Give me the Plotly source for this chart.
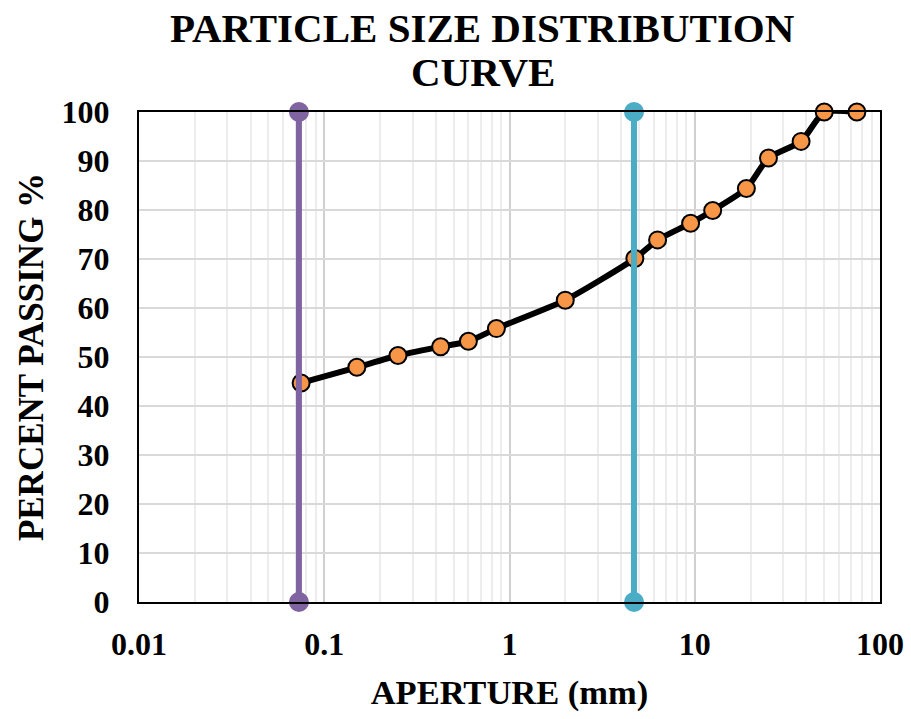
import plotly.graph_objects as go

# Sieve data
aperture_mm = [0.075, 0.15, 0.25, 0.425, 0.6, 0.85, 2, 4.75, 6.3, 9.5, 12.5, 19, 25, 37.5, 50, 75]
percent_passing = [44.7, 47.9, 50.3, 52.1, 53.2, 55.8, 61.6, 70.1, 73.9, 77.3, 79.9, 84.4, 90.6, 94.0, 100, 100]

# Reference lines (limits)
line_a_x = [0.073, 0.073]
line_b_x = [4.7, 4.7]
ref_y = [0, 100]

x_tickvals = [0.01, 0.1, 1, 10, 100]
x_ticktext = ["0.01", "0.1", "1", "10", "100"]
y_tickvals = [0, 10, 20, 30, 40, 50, 60, 70, 80, 90, 100]

title_lines = ["PARTICLE SIZE DISTRIBUTION", "CURVE"]

FONT = "Liberation Serif"

fig = go.Figure()

fig.add_trace(go.Scatter(
    x=aperture_mm, y=percent_passing, mode="lines+markers",
    line=dict(color="black", width=6, shape="spline", smoothing=0.6),
    marker=dict(color="#F79646", size=17, line=dict(color="black", width=2)),
    cliponaxis=False, showlegend=False))

fig.add_trace(go.Scatter(
    x=line_a_x, y=ref_y, mode="lines+markers",
    line=dict(color="#8064A2", width=6),
    marker=dict(color="#8064A2", size=20),
    cliponaxis=False, showlegend=False))

fig.add_trace(go.Scatter(
    x=line_b_x, y=ref_y, mode="lines+markers",
    line=dict(color="#4BACC6", width=6),
    marker=dict(color="#4BACC6", size=20),
    cliponaxis=False, showlegend=False))

fig.update_layout(
    width=911, height=719,
    paper_bgcolor="white", plot_bgcolor="white",
    margin=dict(l=139, r=31, t=112, b=117, autoexpand=False),
    font=dict(family=FONT, color="black"),
    annotations=[
        dict(text="<b>%s</b>" % title_lines[0], x=0.464, y=1.1714, xref="paper", yref="paper",
             xanchor="center", yanchor="middle", showarrow=False,
             font=dict(family=FONT, size=41, color="black")),
        dict(text="<b>%s</b>" % title_lines[1], x=0.464, y=1.0816, xref="paper", yref="paper",
             xanchor="center", yanchor="middle", showarrow=False,
             font=dict(family=FONT, size=41, color="black")),
    ],
)

fig.update_xaxes(
    type="log", range=[-2, 2],
    tickvals=x_tickvals, ticktext=["<b>%s</b>" % t for t in x_ticktext],
    tickfont=dict(family=FONT, size=32, color="black"),
    ticklabelstandoff=13,
    showgrid=True, gridcolor="#D0D0D0", gridwidth=1.5,
    minor=dict(showgrid=True, gridcolor="#EDEDED", gridwidth=1.5, dtick="D1"),
    showline=True, linecolor="black", linewidth=2, mirror=True,
    zeroline=False,
    title=dict(text="<b>APERTURE (mm)</b>", font=dict(family=FONT, size=34.5, color="black"), standoff=18),
)

fig.update_yaxes(
    range=[0, 100], tickvals=y_tickvals,
    ticktext=["<b>%d</b>" % v for v in y_tickvals],
    tickfont=dict(family=FONT, size=32, color="black"),
    ticklabelstandoff=21,
    showgrid=True, gridcolor="#D9D9D9", gridwidth=1.5,
    showline=True, linecolor="black", linewidth=2, mirror=True,
    zeroline=False,
    title=dict(text="<b>PERCENT PASSING %</b>", font=dict(family=FONT, size=35, color="black"), standoff=7),
)

fig.write_html("out.html", config={"displayModeBar": False},
               post_script="document.body.style.margin='0';")
